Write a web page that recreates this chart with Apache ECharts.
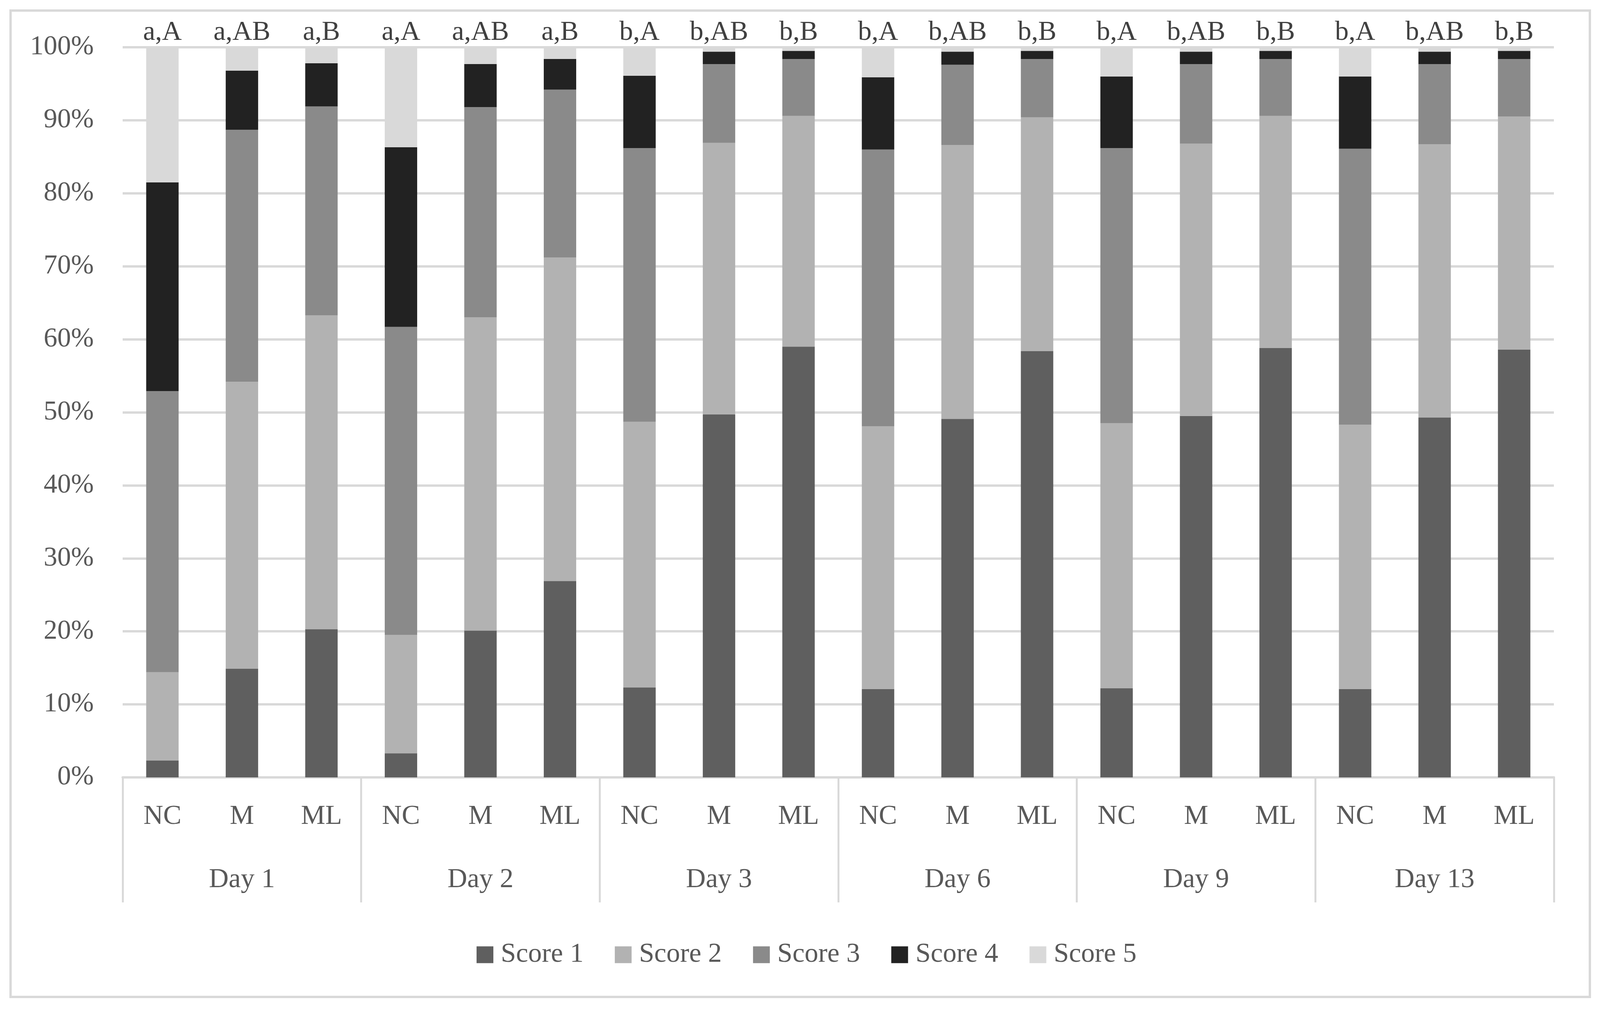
<!DOCTYPE html>
<html>
<head>
<meta charset="utf-8">
<script src="https://cdn.jsdelivr.net/npm/echarts@6/dist/echarts.min.js"></script>
<style>
html,body{margin:0;padding:0;background:#fff;overflow:hidden;}
#chart{width:100vw;height:100vh;}
</style>
</head>
<body>
<div id="chart"></div>
<script>
const treatments = ['NC','M','ML','NC','M','ML','NC','M','ML','NC','M','ML','NC','M','ML','NC','M','ML'];
const days = ['Day 1','Day 2','Day 3','Day 6','Day 9','Day 13'];
const sigLabels = ['a,A','a,AB','a,B','a,A','a,AB','a,B','b,A','b,AB','b,B','b,A','b,AB','b,B','b,A','b,AB','b,B','b,A','b,AB','b,B'];
const yTicks = [0,10,20,30,40,50,60,70,80,90,100];

const score1 = [2.3,14.9,20.3, 3.3,20.1,26.9, 12.3,49.7,59.0, 12.1,49.1,58.4, 12.2,49.5,58.8, 12.1,49.3,58.6];
const score2 = [12.1,39.3,43.0, 16.2,42.9,44.3, 36.4,37.2,31.6, 36.0,37.5,32.0, 36.3,37.3,31.8, 36.2,37.4,31.9];
const score3 = [38.5,34.5,28.6, 42.2,28.8,23.0, 37.5,10.8,7.8, 37.9,11.0,8.0, 37.7,10.9,7.8, 37.8,11.0,7.9];
const score4 = [28.6,8.1,5.9, 24.6,5.9,4.2, 9.9,1.7,1.1, 9.9,1.8,1.1, 9.8,1.7,1.1, 9.9,1.7,1.1];
const score5 = [18.5,3.2,2.2, 13.7,2.3,1.6, 3.9,0.6,0.5, 4.1,0.6,0.5, 4.0,0.6,0.5, 4.0,0.6,0.5];

const seriesNames = ['Score 1','Score 2','Score 3','Score 4','Score 5'];
const seriesData = [score1, score2, score3, score4, score5];
const colors = ['#5f5f5f','#b2b2b2','#8a8a8a','#222222','#d9d9d9'];

const FONT = '"Liberation Serif", "DejaVu Serif", serif';
const TXT = '#595959';
const GRID = '#d9d9d9';

const el = document.getElementById('chart');
const W = el.clientWidth || window.innerWidth;
const H = el.clientHeight || window.innerHeight;
const sx = W / 4425, sy = H / 2588, s = Math.min(sx, sy);
const X = v => Math.round(v * sx);
const Y = v => Math.round(v * sy);
const F = v => Math.round(v * s);

const chart = echarts.init(el);

const series = seriesData.map((d, i) => ({
  name: seriesNames[i],
  type: 'bar',
  stack: 'total',
  xAxisIndex: 0,
  yAxisIndex: 0,
  barWidth: X(90),
  data: d,
  itemStyle: { color: colors[i] },
  label: i === 4 ? {
    show: true,
    position: 'top',
    distance: 2,
    formatter: p => sigLabels[p.dataIndex],
    fontFamily: FONT,
    fontSize: F(76),
    color: '#404040'
  } : { show: false },
  emphasis: { disabled: true }
}));

chart.setOption({
  backgroundColor: '#ffffff',
  animation: false,
  color: colors,
  grid: { left: X(339), right: X(127), top: Y(121), bottom: Y(598), containLabel: false },
  legend: {
    data: seriesNames,
    left: X(1313),
    top: Y(2404),
    itemWidth: F(46),
    itemHeight: F(46),
    itemGap: X(86),
    icon: 'rect',
    textStyle: { fontFamily: FONT, fontSize: F(76), color: TXT, padding: [0, 0, 0, F(15)] }
  },
  xAxis: [
    {
      type: 'category',
      data: treatments,
      position: 'bottom',
      boundaryGap: true,
      axisLine: { show: true, lineStyle: { color: GRID, width: F(7) } },
      axisTick: { show: false },
      axisLabel: { interval: 0, margin: Y(66), fontFamily: FONT, fontSize: F(76), color: TXT },
      splitLine: { show: false }
    },
    {
      type: 'category',
      data: days,
      position: 'bottom',
      boundaryGap: true,
      axisLine: { show: false },
      axisTick: { show: true, interval: 0, length: Y(320), lineStyle: { color: GRID, width: F(5) } },
      axisLabel: { interval: 0, margin: Y(228), fontFamily: FONT, fontSize: F(76), color: TXT },
      splitLine: { show: false }
    }
  ],
  yAxis: {
    type: 'value',
    min: 0,
    max: 100,
    interval: 10,
    axisLine: { show: false },
    axisTick: { show: false },
    axisLabel: {
      margin: X(80),
      fontFamily: FONT,
      fontSize: F(76),
      color: TXT,
      formatter: v => (yTicks.indexOf(v) >= 0 ? v + '%' : '')
    },
    splitLine: { show: true, lineStyle: { color: GRID, width: F(6) } }
  },
  graphic: [
    {
      type: 'rect',
      silent: true,
      shape: { x: X(29), y: Y(27), width: X(4368), height: Y(2525) },
      style: { fill: null, stroke: GRID, lineWidth: F(6) }
    }
  ],
  series: series
});
</script>
</body>
</html>
